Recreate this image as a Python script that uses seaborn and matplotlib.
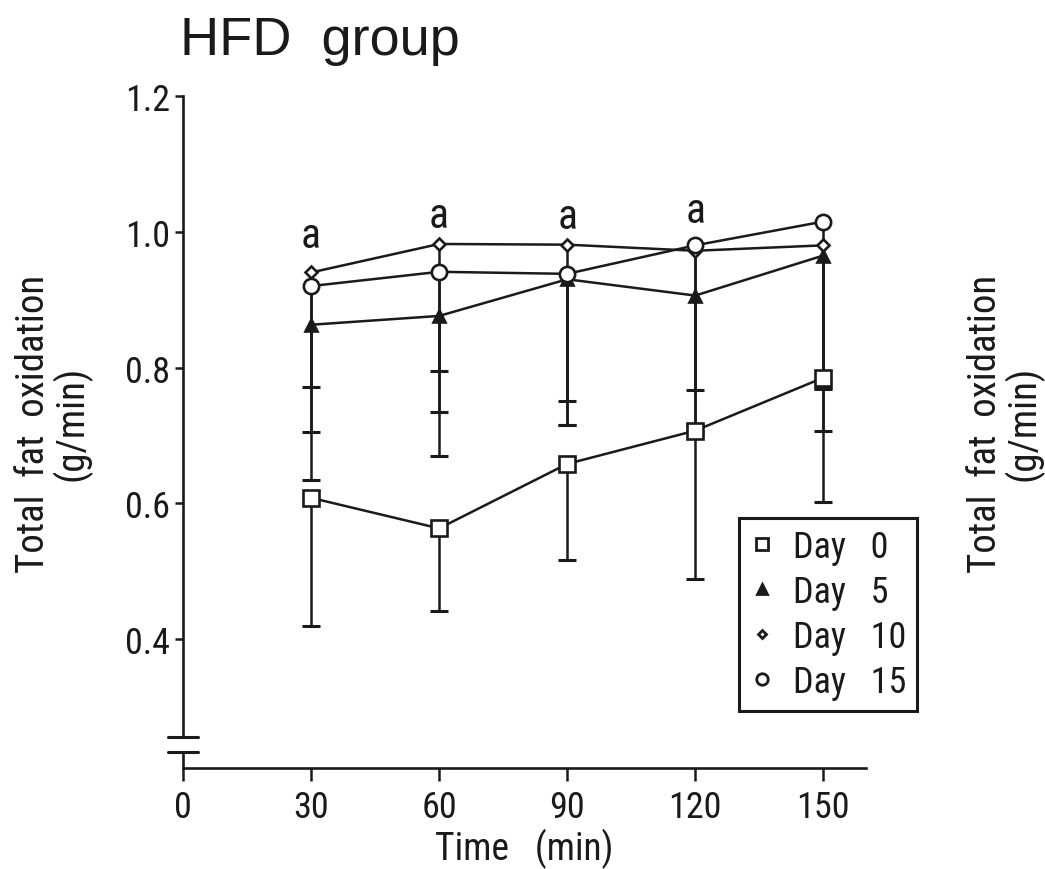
import matplotlib
matplotlib.use('Agg')
import matplotlib.pyplot as plt
import matplotlib.transforms as mtransforms
from matplotlib.lines import Line2D
from matplotlib import font_manager
import seaborn as sns
import pandas as pd
import numpy as np

# data
times = [30, 60, 90, 120, 150]
day0 = [0.608, 0.563, 0.658, 0.707, 0.785]
day5 = [0.863, 0.876, 0.930, 0.906, 0.965]
day10 = [0.940, 0.982, 0.981, 0.972, 0.980]
day15 = [0.920, 0.941, 0.938, 0.980, 1.015]
# lower error bar lengths
day0_err = [0.189, 0.122, 0.141, 0.219, 0.183]
day5_err = [0.158, 0.081, 0.214, 0.139, 0.258]
day10_err = [0.168, 0.248, 0.230, 0.257, 0.212]
day15_err = [0.285, 0.271, 0.222, 0.275, 0.245]
group_names = ['Day 0', 'Day 5', 'Day 10', 'Day 15']
sig_times = [30, 60, 90, 120]
sig_y = [0.994, 1.024, 1.022, 1.031]
x_ticks = [0, 30, 60, 90, 120, 150]
y_ticks = [0.4, 0.6, 0.8, 1.0, 1.2]

sns.set_style('ticks')
# pick a narrow face if one is around
names = {f.name for f in font_manager.fontManager.ttflist}
narrow = [n for n in ['Liberation Sans Narrow', 'DejaVu Sans Condensed', 'Roboto Condensed'] if n in names]
plt.rcParams['font.family'] = narrow + ['DejaVu Sans']
plt.rcParams['font.stretch'] = 'condensed'
ink = '#1a1a1a'

df = pd.DataFrame({
    'time': times * 4,
    'fat': day0 + day5 + day10 + day15,
    'err': day0_err + day5_err + day10_err + day15_err,
    'day': [g for g in group_names for _ in times],
})

fig = plt.figure(figsize=(10.45, 8.7), dpi=100)
ax = fig.add_axes([0.1751, 0.1161, 0.6536, 0.7724])

# marker styles per group: (marker, size, face)
styles = {
    'Day 0': ('s', 11, 'white'),
    'Day 5': ('^', 9, ink),
    'Day 10': ('D', 6, 'white'),
    'Day 15': ('o', 11, 'white'),
}

# error bars (lower side only) with caps
for name in group_names:
    sub = df[df['day'] == name]
    lows = sub['fat'] - sub['err']
    ax.vlines(sub['time'], lows, sub['fat'], color=ink, lw=1.8, zorder=1)
    ax.plot(sub['time'], lows, ls='none', marker='_', ms=13, mew=2.2, color=ink, zorder=1)

# lines + markers through seaborn
for name in group_names:
    mk, ms, face = styles[name]
    sns.lineplot(data=df[df['day'] == name], x='time', y='fat', ax=ax,
                 color=ink, lw=1.8, marker=mk, markersize=ms,
                 markerfacecolor=face, markeredgecolor=ink, markeredgewidth=1.9,
                 legend=False, zorder=3)

for t, yv in zip(sig_times, sig_y):
    ax.text(t, yv, 'a', ha='center', va='center', fontsize=30, color=ink)

ax.set_xlim(0, 160)
ax.set_ylim(0.21, 1.2)
ax.set_xticks(x_ticks)
ax.set_xticklabels([str(v) for v in x_ticks])
ax.set_yticks(y_ticks)
ax.set_yticklabels([f'{v:.1f}' for v in y_ticks])
ax.tick_params(axis='x', direction='out', length=9, width=1.8, labelsize=26, colors=ink, pad=6)
ax.tick_params(axis='y', direction='out', length=6, width=1.8, labelsize=26, colors=ink, pad=3)
for s in ['top', 'right']:
    ax.spines[s].set_visible(False)
for s in ['left', 'bottom']:
    ax.spines[s].set_linewidth(1.9)
    ax.spines[s].set_color(ink)
ax.spines['left'].set_bounds(0.255, 1.2)
ax.set_xlabel('Time   (min)', fontsize=27, color=ink, labelpad=2)
ax.set_ylabel('')

# axis break
trans = mtransforms.blended_transform_factory(ax.transAxes, ax.transData)
ax.plot([0, 0], [0.21, 0.234], transform=trans, color=ink, lw=1.9, clip_on=False)
for yb in [0.234, 0.255]:
    ax.plot([-0.022, 0.022], [yb, yb], transform=trans, color=ink, lw=2.2, clip_on=False)

# legend
handles = [Line2D([], [], ls='none', marker=styles[n][0], ms=styles[n][1] * 0.75,
                  mfc=styles[n][2], mec=ink, mew=2) for n in group_names]
leg = ax.legend(handles, [n.replace(' ', '   ') for n in group_names], loc='lower left',
                bbox_to_anchor=(0.814, 0.085), fontsize=26, frameon=True, fancybox=False,
                handlelength=0.7, handletextpad=0.5, labelspacing=0.25, borderpad=0.3,
                borderaxespad=0)
leg.get_frame().set_edgecolor(ink)
leg.get_frame().set_linewidth(2.2)
leg.get_frame().set_alpha(1)
for t in leg.get_texts():
    t.set_color(ink)

fig.text(0.172, 0.953, 'HFD  group', fontsize=39, color=ink, va='center', ha='left',
         family=['Liberation Sans', 'DejaVu Sans'], fontstretch='normal')
ylab = 'Total  fat  oxidation\n(g/min)'
fig.text(0.051, 0.513, ylab, rotation=90, fontsize=28, color=ink, ha='center', va='center',
         linespacing=0.95)
fig.text(0.962, 0.513, ylab, rotation=90, fontsize=28, color=ink, ha='center', va='center',
         linespacing=0.95)

fig.savefig('out.png', dpi=100, facecolor='white')
